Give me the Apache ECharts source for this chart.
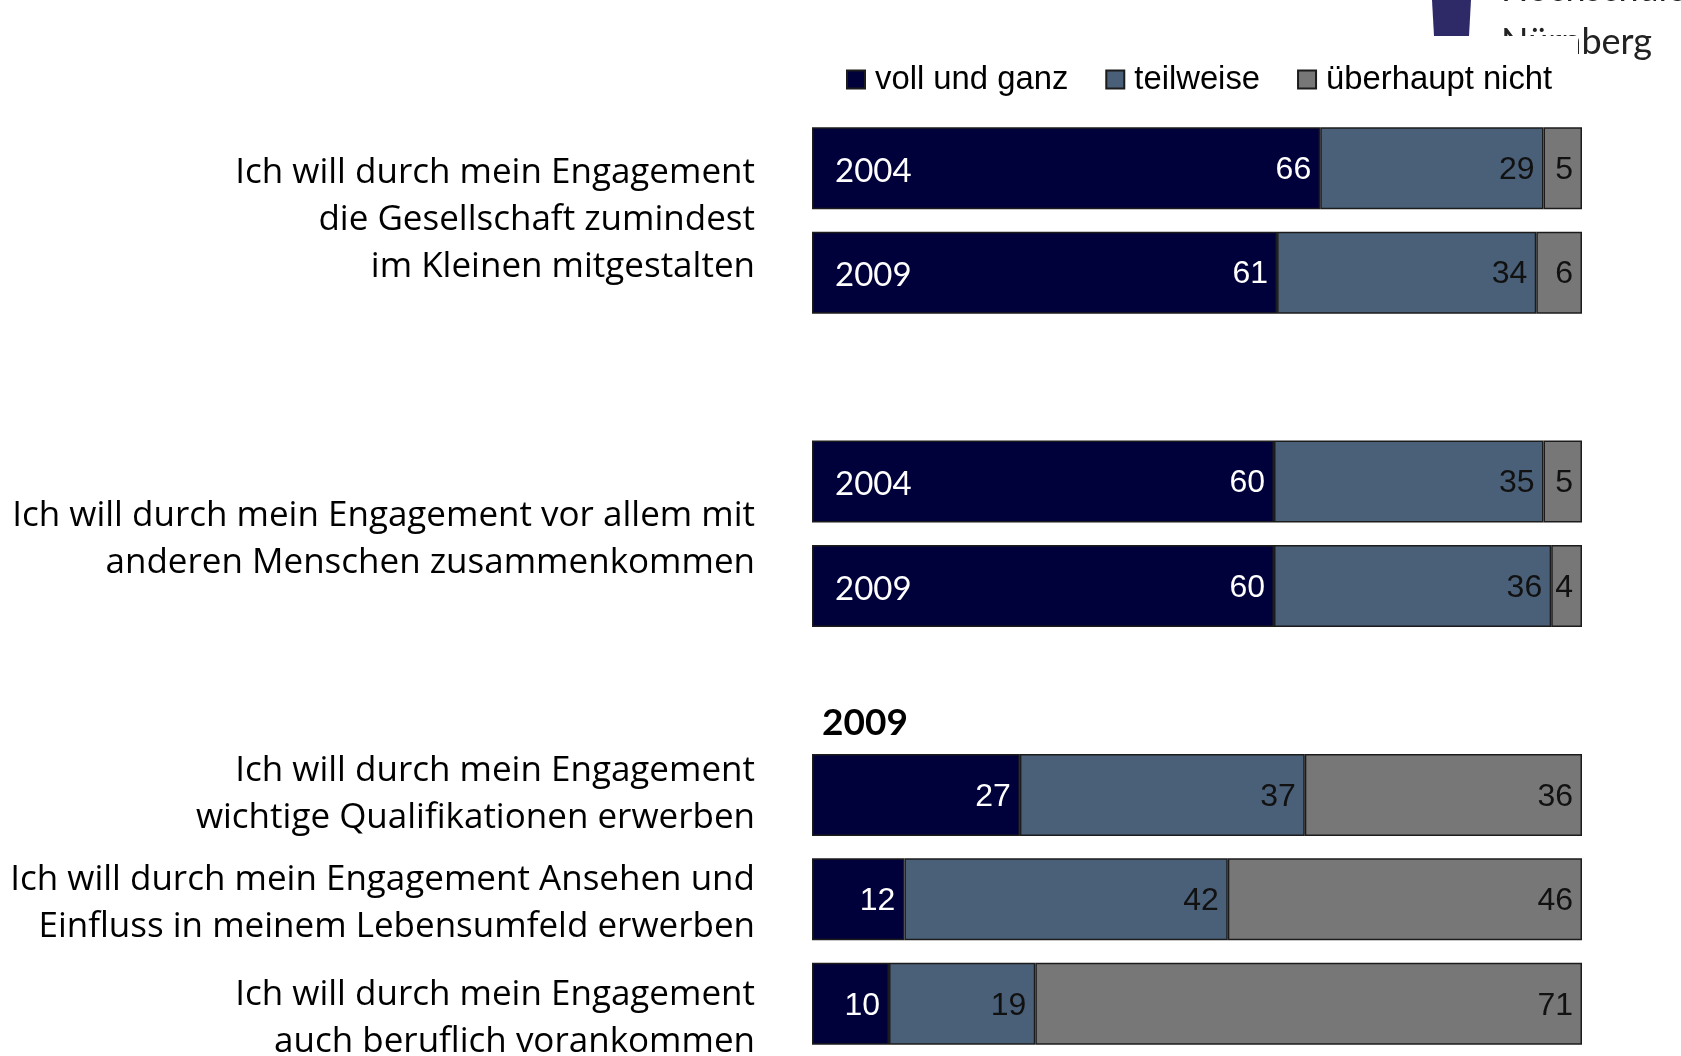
<!DOCTYPE html>
<html>
<head>
<meta charset="utf-8">
<script src="https://cdn.jsdelivr.net/npm/echarts@6/dist/echarts.min.js"></script>
<style>
html, body { margin: 0; padding: 0; background: #fff; }
#chart { width: 1681px; height: 1056px; }
</style>
</head>
<body>
<div id="chart"></div>
<script>
// rows of the chart, empty rows are the gaps between the blocks
var years = ['2004', '2009', '', '2004', '2009', '', '', '', ''];
var vollUndGanz = [66, 61, null, 60, 60, null, 27, 12, 10];
var teilweise = [29, 34, null, 35, 36, null, 37, 42, 19];
var ueberhauptNicht = [5, 6, null, 5, 4, null, 36, 46, 71];
var seriesNames = ['voll und ganz', 'teilweise', 'überhaupt nicht'];
var questions = [
    'Ich will durch mein Engagement\ndie Gesellschaft zumindest\nim Kleinen mitgestalten',
    'Ich will durch mein Engagement vor allem mit\nanderen Menschen zusammenkommen',
    'Ich will durch mein Engagement\nwichtige Qualifikationen erwerben',
    'Ich will durch mein Engagement Ansehen und\nEinfluss in meinem Lebensumfeld erwerben',
    'Ich will durch mein Engagement\nauch beruflich vorankommen'
];
var questionRows = [[0, 1], [3, 4], [6], [7], [8]];
var blockTitle = '2009';
var logoLines = ['Hochschule', 'Nürnberg'];

var colors = ['#00003a', '#4a5f78', '#777777'];
var raw = [vollUndGanz, teilweise, ueberhauptNicht];

// every bar is drawn as share of its row total (some rows add up to 101)
var share = function (arr) {
    return arr.map(function (v, i) {
        if (v == null) return '-';
        var total = vollUndGanz[i] + teilweise[i] + ueberhauptNicht[i];
        return v / total * 100;
    });
};

var chart = echarts.init(document.getElementById('chart'));

var series = raw.map(function (arr, k) {
    return {
        name: seriesNames[k],
        type: 'bar',
        stack: 'all',
        barWidth: 82,
        data: share(arr),
        itemStyle: { color: colors[k], borderColor: '#1c1c1c', borderWidth: 1.5 },
        label: {
            show: true,
            position: 'insideRight',
            distance: 9,
            offset: [0, 2],
            color: k === 0 ? '#fff' : '#111',
            fontFamily: 'Liberation Sans',
            fontSize: 32,
            formatter: function (p) { return arr[p.dataIndex]; }
        },
        emphasis: { disabled: true }
    };
});

chart.setOption({
    animation: false,
    legend: {
        data: seriesNames,
        icon: 'rect',
        left: 841,
        top: 58,
        itemWidth: 18,
        itemHeight: 18,
        itemGap: 37,
        textStyle: { fontFamily: 'Liberation Sans', fontSize: 32.8, color: '#000', padding: [0, 0, 0, 5] }
    },
    grid: { left: 812, width: 770, top: 116, height: 947 },
    xAxis: { type: 'value', min: 0, max: 100, show: false },
    yAxis: {
        type: 'category',
        inverse: true,
        data: years,
        axisLine: { show: false },
        axisTick: { show: false },
        axisLabel: { show: false }
    },
    series: series
});

var rowY = function (i) { return chart.convertToPixel({ yAxisIndex: 0 }, i); };

// small vertical nudges of the question texts, as in the original slide
var textShift = [0, 6, 0, 4, 15];

var graphics = questions.map(function (q, n) {
    var rows = questionRows[n];
    var y = rows.reduce(function (s, r) { return s + rowY(r); }, 0) / rows.length;
    return {
        type: 'text',
        x: 755,
        y: y + textShift[n],
        style: {
            text: q,
            align: 'right',
            verticalAlign: 'middle',
            fontFamily: 'Open Sans',
            fontSize: 35,
            lineHeight: 47,
            fill: '#000'
        }
    };
});

// year names sit inside the bars
years.forEach(function (yr, i) {
    if (!yr) return;
    graphics.push({
        type: 'text',
        x: 835,
        y: rowY(i) + 3,
        z: 100,
        style: { text: yr, verticalAlign: 'middle', fontFamily: 'Lato', fontSize: 33, fill: '#fff' }
    });
});

graphics.push({
    type: 'text',
    x: 822,
    y: (rowY(5) + rowY(6)) / 2 - 20,
    style: { text: blockTitle, verticalAlign: 'middle', fontFamily: 'Lato', fontWeight: 'bold', fontSize: 37, fill: '#000' }
});

// cut-off logo in the top right corner
graphics.push({
    type: 'polygon',
    shape: { points: [[1432, 0], [1471, 0], [1469, 36], [1434, 36]] },
    style: { fill: '#2e2a68' }
});
graphics.push({
    type: 'text', x: 1501, y: -11,
    style: { text: logoLines[0], verticalAlign: 'middle', fontFamily: 'Lato', fontSize: 36, fill: '#222' }
});
graphics.push({
    type: 'text', x: 1501, y: 42,
    style: { text: logoLines[1], verticalAlign: 'middle', fontFamily: 'Lato', fontSize: 36, fill: '#222' }
});
graphics.push({
    type: 'rect',
    shape: { x: 1420, y: 36, width: 158, height: 70 },
    style: { fill: '#fff' }
});

chart.setOption({ graphic: graphics });
</script>
</body>
</html>
